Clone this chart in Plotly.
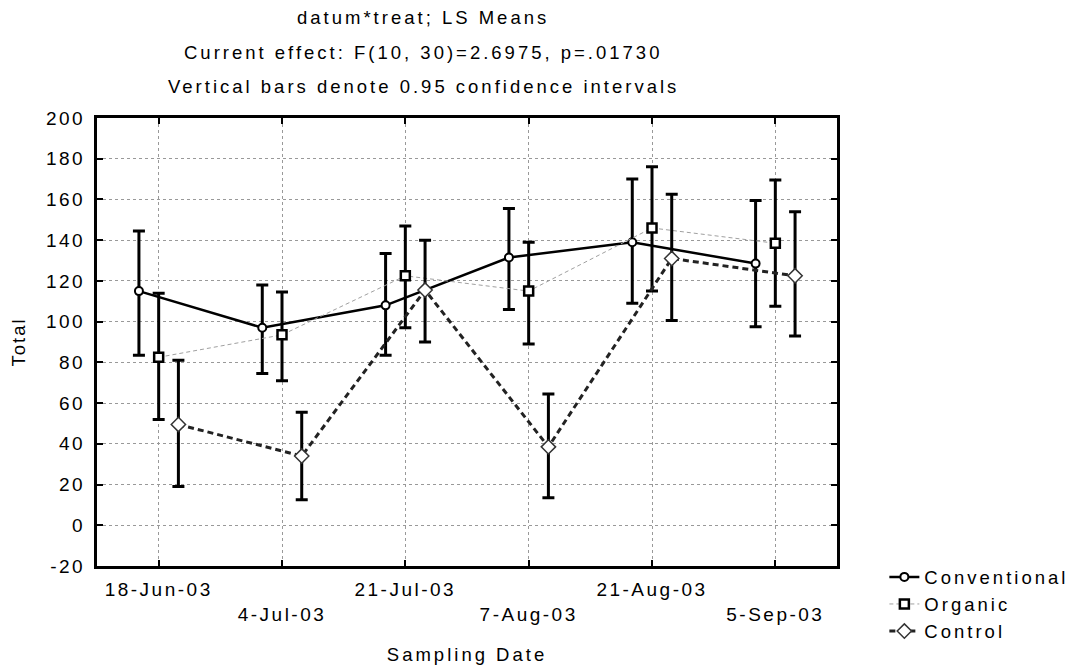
import plotly.graph_objects as go

# ---- data ----
dates = ["18-Jun-03", "4-Jul-03", "21-Jul-03", "7-Aug-03", "21-Aug-03", "5-Sep-03"]
y_ticks = [-20, 0, 20, 40, 60, 80, 100, 120, 140, 160, 180, 200]

conv_mean = [115, 97, 108, 131.5, 139, 128.5]
conv_upper = [144.5, 118, 133.5, 155.5, 170, 159.5]
conv_lower = [83.5, 74.5, 83.5, 106, 109, 97.5]

org_mean = [82.5, 93.5, 122.5, 115, 146, 138.5]
org_upper = [114, 114.5, 147, 139, 176, 169.5]
org_lower = [52, 71, 97, 89, 115, 107.5]

ctrl_mean = [49.5, 34, 115.5, 38.5, 131, 122.5]
ctrl_upper = [81, 55.5, 140, 64.5, 162.5, 154]
ctrl_lower = [19, 12.5, 90, 13.5, 100.5, 93]

FONT = "Liberation Sans, Arial, sans-serif"


def ls(s, px):
    return f'<span style="letter-spacing:{px}px">{s}</span>'


def series(name, mean, upper, lower, offset, line, marker):
    x = [i + offset for i in range(len(mean))]
    return go.Scatter(
        x=x, y=mean, name=ls(name, 3), mode="lines+markers",
        line=line, marker=marker,
        error_y=dict(type="data", symmetric=False,
                     array=[u - m for u, m in zip(upper, mean)],
                     arrayminus=[m - l for m, l in zip(mean, lower)],
                     color="black", thickness=3, width=6),
    )


fig = go.Figure()
fig.add_trace(series("Conventional", conv_mean, conv_upper, conv_lower, -0.16,
                     dict(color="black", width=2.5),
                     dict(symbol="circle", size=8, color="white", line=dict(color="black", width=2))))
fig.add_trace(series("Organic", org_mean, org_upper, org_lower, 0.0,
                     dict(color="#a0a0a0", width=1, dash="4px,3px"),
                     dict(symbol="square", size=9, color="white", line=dict(color="black", width=2.5))))
fig.add_trace(series("Control", ctrl_mean, ctrl_upper, ctrl_lower, 0.16,
                     dict(color="#222", width=3, dash="6px,4px"),
                     dict(symbol="diamond", size=11, color="white", line=dict(color="#333", width=1.5))))

x_ticktext = [ls(d, 2.5) if i % 2 == 0 else "<br>" + ls(d, 2.5) for i, d in enumerate(dates)]
y_ticktext = [ls(str(v), 2.5) for v in y_ticks]

axis_common = dict(
    showline=True, linecolor="black", linewidth=3, mirror="ticks",
    ticks="inside", ticklen=6, tickwidth=2, tickcolor="black",
    showgrid=True, gridcolor="#999", griddash="dot", gridwidth=1,
    zeroline=False, automargin=False,
    tickfont=dict(family=FONT, size=19, color="black"),
)

fig.update_layout(
    width=1077, height=662,
    margin=dict(l=89, r=240, t=110, b=104),
    paper_bgcolor="white", plot_bgcolor="white",
    font=dict(family=FONT, size=19, color="black"),
    xaxis=dict(range=[-0.5, 5.5], tickvals=list(range(len(dates))), ticktext=x_ticktext,
               ticklabelstandoff=4,
               title=dict(text=ls("Sampling Date", 3), font=dict(size=18.5), standoff=25),
               **axis_common),
    yaxis=dict(range=[-20, 200], tickvals=y_ticks, ticktext=y_ticktext, ticklabelstandoff=5,
               title=dict(text=ls("Total", 2), font=dict(size=18.5), standoff=39),
               **axis_common),
    legend=dict(x=1.064, y=0.017, xanchor="left", yanchor="top",
                font=dict(family=FONT, size=18.5, color="black"),
                bgcolor="rgba(0,0,0,0)", tracegroupgap=0),
    showlegend=True,
)

titles = ["datum*treat; LS Means",
          "Current effect: F(10, 30)=2.6975, p=.01730",
          "Vertical bars denote 0.95 confidence intervals"]
title_y = [18, 53, 87]
for t, py in zip(titles, title_y):
    fig.add_annotation(text=ls(t, 3), xref="paper", yref="paper",
                       x=(426 - 97) / 746, y=(566 - py) / 448,
                       xanchor="center", yanchor="middle", showarrow=False,
                       font=dict(family=FONT, size=18.5, color="black"))

fig.write_html("out.html")
